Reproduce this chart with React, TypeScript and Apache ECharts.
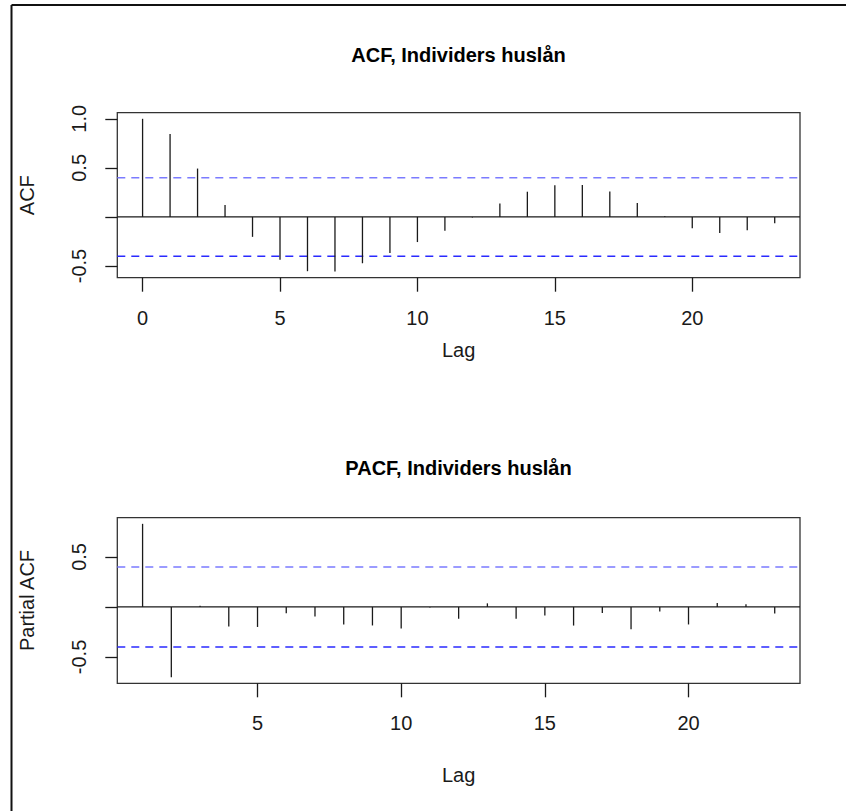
import React, { useEffect, useRef } from "react";
import * as echarts from "echarts";

const acfLags = [0, 1, 2, 3, 4, 5, 6, 7, 8, 9, 10, 11, 12, 13, 14, 15, 16, 17, 18, 19, 20, 21, 22, 23];
const acfValues = [1.0, 0.845, 0.493, 0.122, -0.203, -0.436, -0.553, -0.557, -0.472, -0.368, -0.256, -0.142, -0.006, 0.136, 0.257, 0.324, 0.326, 0.26, 0.142, 0.008, -0.115, -0.165, -0.135, -0.064];
const pacfLags = [1, 2, 3, 4, 5, 6, 7, 8, 9, 10, 11, 12, 13, 14, 15, 16, 17, 18, 19, 20, 21, 22, 23];
const pacfValues = [0.831, -0.702, 0.013, -0.195, -0.2, -0.063, -0.096, -0.175, -0.185, -0.215, -0.005, -0.119, 0.036, -0.119, -0.086, -0.186, -0.06, -0.222, -0.046, -0.175, 0.04, 0.027, -0.066];
const confLimits = [0.4, -0.4];

const acfTicksX = [0, 5, 10, 15, 20];
const pacfTicksX = [5, 10, 15, 20];
const acfTicksY = [-0.5, 0, 0.5, 1.0];
const acfLabelsY = [-0.5, 0.5, 1.0];
const pacfTicksY = [-0.5, 0, 0.5];
const pacfLabelsY = [-0.5, 0.5];

const titles = ["ACF, Individers huslån", "PACF, Individers huslån"];
const yNames = ["ACF", "Partial ACF"];
const xName = "Lag";

const FONT = "'Liberation Sans', Arial, Helvetica, sans-serif";
const INK = "#1a1a1a";

function padRange(vals: number[]): [number, number] {
  const lo = Math.min(...vals);
  const hi = Math.max(...vals);
  const d = (hi - lo) * 0.04;
  return [lo - d, hi + d];
}

const spikeRender = (params: any, api: any) => {
  const x = api.value(0);
  const y = api.value(1);
  const p0 = api.coord([x, 0]);
  const p1 = api.coord([x, y]);
  return {
    type: "line",
    shape: { x1: p0[0], y1: p0[1], x2: p1[0], y2: p1[1] },
    style: { stroke: INK, lineWidth: 1.3 },
  };
};

const hlineRender = (params: any, api: any) => {
  const y = api.value(0);
  const kind = api.value(1);
  const cs = params.coordSys;
  const py = api.coord([0, y])[1];
  const style: any =
    kind === 0
      ? { stroke: INK, lineWidth: 1.3 }
      : { stroke: y > 0 ? "#7b7bff" : "#2a2aff", lineWidth: 1.4, lineDash: [8, 6] };
  return {
    type: "line",
    shape: { x1: cs.x, y1: py, x2: cs.x + cs.width, y2: py },
    style,
  };
};

export default function App() {
  const ref = useRef<HTMLDivElement>(null);

  useEffect(() => {
    if (!ref.current) return;
    const chart = echarts.init(ref.current, undefined, { renderer: "svg" });

    const acfX = padRange(acfLags);
    const pacfX = padRange(pacfLags);
    const acfY = padRange([...acfValues, ...confLimits]);
    const pacfY = padRange([...pacfValues, ...confLimits]);

    const gridLeft = 117.3;
    const gridWidth = 682.7;
    const grids = [
      { left: gridLeft, top: 112.7, width: gridWidth, height: 165 },
      { left: gridLeft, top: 517.7, width: gridWidth, height: 165.6 },
    ];

    const xAxisBase = (idx: number, range: [number, number], ticks: number[]) => ({
      type: "value",
      gridIndex: idx,
      position: "bottom",
      min: range[0],
      max: range[1],
      name: xName,
      nameLocation: "middle",
      nameGap: idx === 0 ? 62 : 82,
      nameTextStyle: { fontFamily: FONT, fontSize: 20, color: INK },
      axisLine: { show: false, onZero: false },
      splitLine: { show: false },
      axisTick: {
        show: true,
        inside: false,
        length: 14,
        lineStyle: { color: INK, width: 1.3 },
        customValues: ticks,
      },
      axisLabel: {
        show: true,
        margin: 30,
        fontFamily: FONT,
        fontSize: 20,
        color: INK,
        customValues: ticks,
        formatter: (v: number) => String(v),
      },
    });

    const yAxisBase = (idx: number, range: [number, number], ticks: number[], labels: number[]) => ({
      type: "value",
      gridIndex: idx,
      position: "left",
      min: range[0],
      max: range[1],
      name: yNames[idx],
      nameLocation: "middle",
      nameRotate: 90,
      nameGap: 80,
      nameTextStyle: { fontFamily: FONT, fontSize: 20, color: INK },
      axisLine: { show: false, onZero: false },
      splitLine: { show: false },
      axisTick: {
        show: true,
        inside: false,
        length: 12,
        lineStyle: { color: INK, width: 1.3 },
        customValues: ticks,
      },
      axisLabel: {
        show: true,
        rotate: 90,
        margin: 28,
        fontFamily: FONT,
        fontSize: 20,
        color: INK,
        customValues: labels,
        formatter: (v: number) => v.toFixed(1),
      },
    });

    const hlineData = [[0, 0], [confLimits[0], 1], [confLimits[1], 1]];

    chart.setOption({
      animation: false,
      backgroundColor: "#ffffff",
      grid: grids.map((g) => ({
        ...g,
        show: true,
        borderColor: "#333",
        borderWidth: 1.3,
        backgroundColor: "transparent",
      })),
      xAxis: [xAxisBase(0, acfX, acfTicksX), xAxisBase(1, pacfX, pacfTicksX)],
      yAxis: [
        yAxisBase(0, acfY, acfTicksY, acfLabelsY),
        yAxisBase(1, pacfY, pacfTicksY, pacfLabelsY),
      ],
      series: [
        {
          type: "custom",
          name: "ACF",
          xAxisIndex: 0,
          yAxisIndex: 0,
          renderItem: hlineRender,
          data: hlineData,
          silent: true,
          z: 1,
        },
        {
          type: "custom",
          name: "ACF spikes",
          xAxisIndex: 0,
          yAxisIndex: 0,
          renderItem: spikeRender,
          encode: { x: 0, y: 1 },
          data: acfLags.map((l, i) => [l, acfValues[i]]),
          z: 2,
        },
        {
          type: "custom",
          name: "PACF",
          xAxisIndex: 1,
          yAxisIndex: 1,
          renderItem: hlineRender,
          data: hlineData,
          silent: true,
          z: 1,
        },
        {
          type: "custom",
          name: "PACF spikes",
          xAxisIndex: 1,
          yAxisIndex: 1,
          renderItem: spikeRender,
          encode: { x: 0, y: 1 },
          data: pacfLags.map((l, i) => [l, pacfValues[i]]),
          z: 2,
        },
      ],
      graphic: [
        {
          type: "line",
          shape: { x1: 11.5, y1: 5, x2: 846, y2: 5 },
          style: { stroke: "#111", lineWidth: 2 },
        },
        {
          type: "line",
          shape: { x1: 11.5, y1: 5, x2: 11.5, y2: 811 },
          style: { stroke: "#111", lineWidth: 2 },
        },
        {
          type: "text",
          x: 458.5,
          y: 55,
          style: {
            text: titles[0],
            font: `bold 20px ${FONT}`,
            textAlign: "center",
            textVerticalAlign: "middle",
            fill: "#000",
          },
        },
        {
          type: "text",
          x: 458.5,
          y: 468,
          style: {
            text: titles[1],
            font: `bold 20px ${FONT}`,
            textAlign: "center",
            textVerticalAlign: "middle",
            fill: "#000",
          },
        },
      ],
    });

    return () => chart.dispose();
  }, []);

  return (
    <div
      ref={ref}
      style={{ position: "fixed", left: 0, top: 0, width: 846, height: 811 }}
    />
  );
}
